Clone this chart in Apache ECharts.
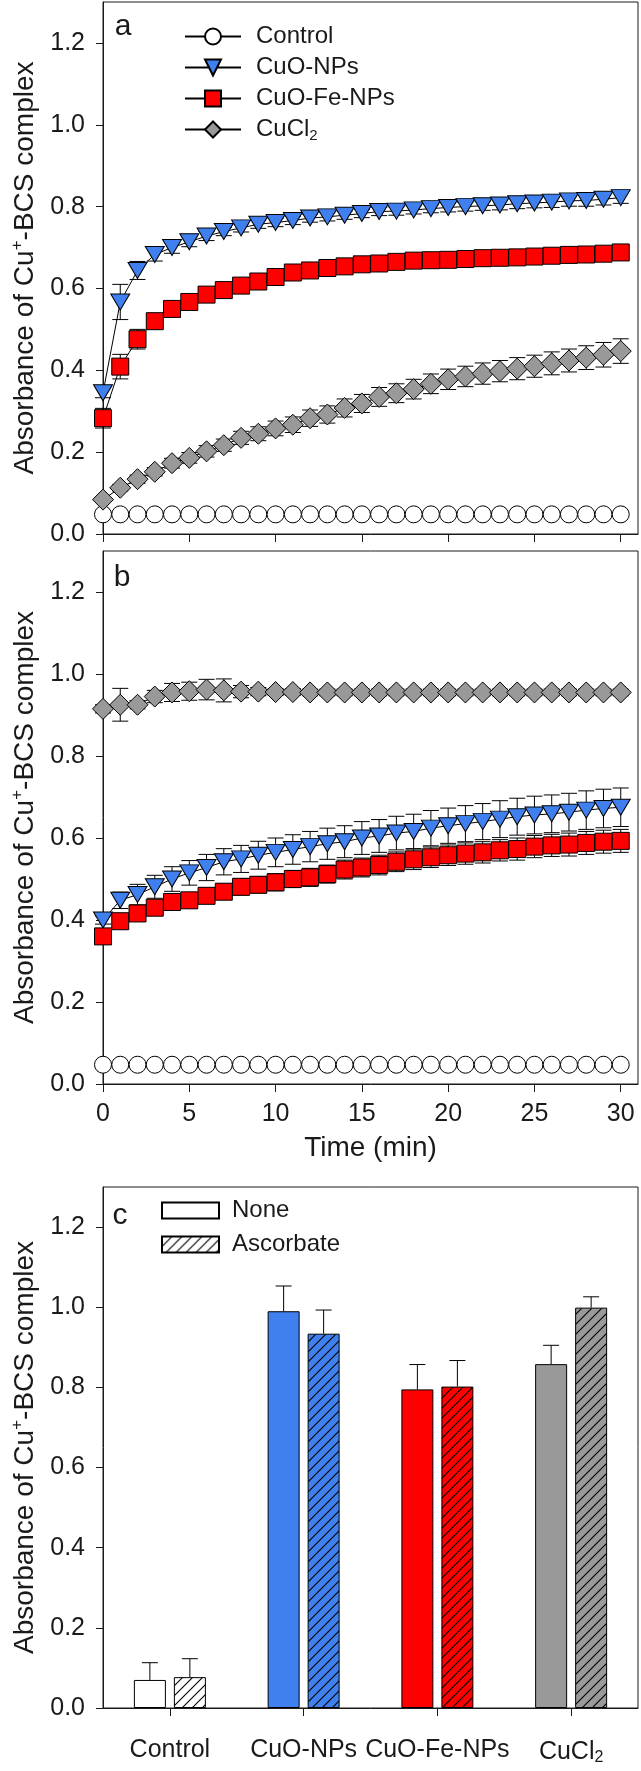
<!DOCTYPE html>
<html><head><meta charset="utf-8">
<script src="https://cdn.jsdelivr.net/npm/echarts@6/dist/echarts.min.js"></script>
<style>html,body{margin:0;padding:0;background:#fff}#c{width:641px;height:1771px}</style>
</head><body><div id="c"></div>
<script>
// ---------- data ----------
const timeMin = [0,1,2,3,4,5,6,7,8,9,10,11,12,13,14,15,16,17,18,19,20,21,22,23,24,25,26,27,28,29,30];
const xTickValues = [0,5,10,15,20,25,30];
const yTickValues = [0,0.2,0.4,0.6,0.8,1.0,1.2];

// panel a
const controlA = [0.048,0.048,0.048,0.048,0.048,0.048,0.048,0.048,0.048,0.048,0.048,0.048,0.048,0.048,0.048,0.048,0.048,0.048,0.048,0.048,0.048,0.048,0.048,0.048,0.048,0.048,0.048,0.048,0.048,0.048,0.048];
const controlErrA = [0.003,0.003,0.003,0.003,0.003,0.003,0.003,0.003,0.003,0.003,0.003,0.003,0.003,0.003,0.003,0.003,0.003,0.003,0.003,0.003,0.003,0.003,0.003,0.003,0.003,0.003,0.003,0.003,0.003,0.003,0.003];
const cuoA = [0.345,0.567,0.644,0.683,0.700,0.714,0.728,0.739,0.748,0.757,0.761,0.766,0.772,0.775,0.779,0.783,0.788,0.789,0.792,0.795,0.798,0.800,0.802,0.804,0.807,0.809,0.811,0.814,0.815,0.818,0.822];
const cuoErrA = [0.012,0.043,0.022,0.016,0.014,0.012,0.011,0.010,0.010,0.010,0.010,0.010,0.010,0.010,0.010,0.010,0.010,0.010,0.010,0.010,0.011,0.011,0.011,0.012,0.012,0.012,0.013,0.013,0.014,0.014,0.014];
const cuofeA = [0.283,0.409,0.476,0.520,0.550,0.567,0.585,0.596,0.607,0.617,0.628,0.639,0.644,0.650,0.654,0.659,0.661,0.665,0.668,0.669,0.670,0.672,0.674,0.675,0.676,0.678,0.680,0.682,0.683,0.685,0.688];
const cuofeErrA = [0.024,0.030,0.024,0.018,0.016,0.015,0.015,0.015,0.015,0.015,0.015,0.015,0.015,0.015,0.015,0.015,0.015,0.015,0.015,0.015,0.015,0.015,0.015,0.015,0.015,0.015,0.015,0.015,0.016,0.016,0.016];
const cucl2A = [0.084,0.113,0.134,0.152,0.173,0.186,0.202,0.217,0.235,0.245,0.258,0.267,0.283,0.292,0.308,0.319,0.335,0.344,0.354,0.367,0.378,0.385,0.392,0.398,0.404,0.410,0.417,0.424,0.431,0.438,0.447];
const cucl2ErrA = [0.005,0.008,0.010,0.010,0.012,0.013,0.014,0.015,0.016,0.017,0.018,0.019,0.020,0.021,0.022,0.022,0.023,0.023,0.024,0.024,0.025,0.025,0.026,0.026,0.027,0.027,0.028,0.028,0.029,0.030,0.030];

// panel b
const controlB = [0.047,0.047,0.047,0.047,0.047,0.047,0.047,0.047,0.047,0.047,0.047,0.047,0.047,0.047,0.047,0.047,0.047,0.047,0.047,0.047,0.047,0.047,0.047,0.047,0.047,0.047,0.047,0.047,0.047,0.047,0.047];
const controlErrB = [0.003,0.003,0.003,0.003,0.003,0.003,0.003,0.003,0.003,0.003,0.003,0.003,0.003,0.003,0.003,0.003,0.003,0.003,0.003,0.003,0.003,0.003,0.003,0.003,0.003,0.003,0.003,0.003,0.003,0.003,0.003];
const cuoB = [0.400,0.448,0.462,0.481,0.500,0.515,0.528,0.542,0.549,0.558,0.565,0.572,0.579,0.586,0.591,0.600,0.605,0.612,0.616,0.624,0.630,0.635,0.640,0.646,0.652,0.656,0.659,0.663,0.668,0.672,0.675];
const cuoErrB = [0.010,0.020,0.025,0.028,0.030,0.030,0.032,0.032,0.033,0.034,0.035,0.036,0.037,0.038,0.039,0.040,0.040,0.041,0.042,0.043,0.043,0.044,0.044,0.045,0.045,0.046,0.046,0.046,0.047,0.047,0.047];
const cuofeB = [0.360,0.397,0.416,0.430,0.444,0.448,0.459,0.469,0.481,0.486,0.492,0.500,0.504,0.512,0.523,0.528,0.534,0.542,0.548,0.553,0.558,0.562,0.565,0.570,0.573,0.579,0.582,0.584,0.588,0.591,0.593];
const cuofeErrB = [0.012,0.015,0.016,0.017,0.018,0.018,0.019,0.019,0.020,0.020,0.021,0.021,0.022,0.022,0.023,0.023,0.024,0.024,0.025,0.025,0.025,0.026,0.026,0.026,0.027,0.027,0.027,0.028,0.028,0.028,0.028];
const cucl2B = [0.915,0.925,0.925,0.945,0.955,0.958,0.962,0.960,0.957,0.957,0.956,0.956,0.955,0.955,0.955,0.955,0.955,0.955,0.955,0.955,0.955,0.955,0.955,0.955,0.955,0.955,0.955,0.955,0.955,0.955,0.955];
const cucl2ErrB = [0.010,0.040,0.010,0.015,0.022,0.022,0.025,0.028,0.015,0.010,0.008,0.008,0.008,0.008,0.008,0.008,0.008,0.008,0.008,0.008,0.008,0.008,0.008,0.008,0.008,0.008,0.008,0.008,0.008,0.008,0.008];

// panel c
const barCategories = ['Control','CuO-NPs','CuO-Fe-NPs','CuCl2'];
const noneVals = [0.070,0.990,0.795,0.858];
const noneErr  = [0.043,0.063,0.062,0.047];
const ascVals  = [0.077,0.934,0.802,0.999];
const ascErr   = [0.046,0.059,0.065,0.027];

// ---------- styles ----------
const FONT = '"Liberation Sans", Arial, Helvetica, sans-serif';
const INK = '#1a1a1a';
const BLUE = '#3f80ee', RED = '#ff0000', GRAY = '#999999', WHITE = '#ffffff';
const catColors = [WHITE, BLUE, RED, GRAY];
const BAR_W = 32, BAR_GAP = 8;

function hatch(bg){
  const s = 10, c = document.createElement('canvas');
  c.width = s; c.height = s;
  const g = c.getContext('2d');
  g.fillStyle = bg; g.fillRect(0,0,s,s);
  g.strokeStyle = '#000'; g.lineWidth = 1.1;
  g.beginPath();
  g.moveTo(-1, s+1); g.lineTo(s+1, -1);
  g.moveTo(-2, 2); g.lineTo(2, -2);
  g.moveTo(s-2, s+2); g.lineTo(s+2, s-2);
  g.stroke();
  return {image: c, repeat: 'repeat'};
}

const chart = echarts.init(document.getElementById('c'), null, {renderer:'canvas'});

const grids = [
  {left:103, top:2, width:535, height:532},
  {left:103, top:551, width:535, height:533},
  {left:103, top:1187, width:535, height:521}
].map(g => Object.assign({show:true, borderColor:INK, borderWidth:1, backgroundColor:'transparent', containLabel:false}, g));

const yName = '{n|Absorbance of Cu}{p|+}{n|-BCS complex}';
function yAxis(gi){
  return {
    type:'value', gridIndex:gi, min:0, max:1.3,
    axisLine:{show:true, lineStyle:{color:INK, width:1}},
    axisTick:{show:true, length:7, lineStyle:{color:INK, width:1}, customValues:yTickValues},
    axisLabel:{customValues:yTickValues, formatter:v=>v.toFixed(1), fontSize:25, color:INK, fontFamily:FONT, margin:18},
    splitLine:{show:false},
    name:yName, nameLocation:'middle', nameRotate:90, nameGap:62,
    nameTextStyle:{rich:{
      n:{fontSize:28, fontFamily:FONT, color:INK, lineHeight:32},
      p:{fontSize:17, fontFamily:FONT, color:INK, lineHeight:32, verticalAlign:'top', padding:[0,0,12,0]}
    }}
  };
}
function xAxisTime(gi, showLabels){
  return {
    type:'value', gridIndex:gi, min:0, max:31,
    axisLine:{show:true, onZero:false, lineStyle:{color:INK, width:1}},
    axisTick:{show:true, length:8, lineStyle:{color:INK, width:1}, customValues:xTickValues},
    axisLabel:{show:showLabels, customValues:xTickValues, fontSize:25, color:INK, fontFamily:FONT, margin:18},
    splitLine:{show:false},
    name: showLabels ? 'Time (min)' : '', nameLocation:'middle', nameGap:50,
    nameTextStyle:{fontSize:28, fontFamily:FONT, color:INK}
  };
}

function lineSeries(name, gi, vals, symbol, size, color, rot){
  return {
    name, type:'line', xAxisIndex:gi, yAxisIndex:gi, z:3,
    data: vals.map((v,i)=>[timeMin[i], v]),
    symbol, symbolSize:size, symbolRotate:rot||0, showAllSymbol:true, clip:false,
    lineStyle:{color:'#000', width:1},
    itemStyle:{color:color, borderColor:'#000', borderWidth:1, opacity:1},
    emphasis:{disabled:true}, animation:false
  };
}
function errSeries(gi, vals, errs){
  return {
    type:'custom', xAxisIndex:gi, yAxisIndex:gi, z:2, silent:true, animation:false, clip:false,
    data: vals.map((v,i)=>[timeMin[i], v, errs[i]]),
    renderItem:(p, api)=>{
      const x=api.value(0), y=api.value(1), e=api.value(2);
      const t=api.coord([x, y+e]), b=api.coord([x, y-e]);
      const hw=8, st={stroke:'#000', lineWidth:1};
      return {type:'group', children:[
        {type:'line', shape:{x1:t[0],y1:t[1],x2:b[0],y2:b[1]}, style:st},
        {type:'line', shape:{x1:t[0]-hw,y1:t[1],x2:t[0]+hw,y2:t[1]}, style:st},
        {type:'line', shape:{x1:b[0]-hw,y1:b[1],x2:b[0]+hw,y2:b[1]}, style:st}
      ]};
    }
  };
}
function barErr(vals, errs, side){
  return {
    type:'custom', xAxisIndex:2, yAxisIndex:2, z:4, silent:true, animation:false,
    data: vals.map((v,i)=>[i, v, errs[i]]),
    renderItem:(p, api)=>{
      const off = side*(BAR_W+BAR_GAP)/2;
      const c=api.value(0), v=api.value(1), e=api.value(2);
      const a=api.coord([c, v]), t=api.coord([c, v+e]);
      const x=a[0]+off, hw=8, st={stroke:'#000', lineWidth:1};
      return {type:'group', children:[
        {type:'line', shape:{x1:x,y1:a[1],x2:x,y2:t[1]}, style:st},
        {type:'line', shape:{x1:x-hw,y1:t[1],x2:x+hw,y2:t[1]}, style:st}
      ]};
    }
  };
}

const series = [];
[[0,controlA,controlErrA,cuoA,cuoErrA,cuofeA,cuofeErrA,cucl2A,cucl2ErrA],
 [1,controlB,controlErrB,cuoB,cuoErrB,cuofeB,cuofeErrB,cucl2B,cucl2ErrB]].forEach(r=>{
  const gi=r[0];
  series.push(errSeries(gi, r[1], r[2]));
  series.push(lineSeries('Control', gi, r[1], 'circle', 17, WHITE));
  series.push(errSeries(gi, r[3], r[4]));
  series.push(lineSeries('CuO-NPs', gi, r[3], 'triangle', [19,16], BLUE, 180));
  series.push(errSeries(gi, r[5], r[6]));
  series.push(lineSeries('CuO-Fe-NPs', gi, r[5], 'rect', 17, RED));
  series.push(errSeries(gi, r[7], r[8]));
  series.push(lineSeries('CuCl2', gi, r[7], 'diamond', 21, GRAY));
});

series.push({
  name:'None', type:'bar', xAxisIndex:2, yAxisIndex:2, barWidth:BAR_W, barGap:(BAR_GAP/BAR_W*100)+'%',
  itemStyle:{color:WHITE, borderColor:'#000', borderWidth:1},
  data: noneVals.map((v,i)=>({value:v, itemStyle:{color:catColors[i]}})), animation:false, emphasis:{disabled:true}
});
series.push({
  name:'Ascorbate', type:'bar', xAxisIndex:2, yAxisIndex:2, barWidth:BAR_W,
  itemStyle:{color:hatch(WHITE), borderColor:'#000', borderWidth:1},
  data: ascVals.map((v,i)=>({value:v, itemStyle:{color:hatch(catColors[i])}})), animation:false, emphasis:{disabled:true}
});
series.push(barErr(noneVals, noneErr, -1));
series.push(barErr(ascVals, ascErr, 1));

const richSub = {
  n:{fontSize:24, fontFamily:FONT, color:INK, lineHeight:27},
  s:{fontSize:15, fontFamily:FONT, color:INK, lineHeight:27, verticalAlign:'bottom', padding:[10,0,0,0]}
};

chart.setOption({
  backgroundColor:'#fff',
  animation:false,
  textStyle:{fontFamily:FONT},
  grid: grids,
  xAxis:[
    xAxisTime(0,false), xAxisTime(1,true),
    {type:'category', gridIndex:2, data:barCategories,
     axisLine:{show:true, lineStyle:{color:INK, width:1}},
     axisTick:{show:true, alignWithLabel:true, length:8, lineStyle:{color:INK}},
     axisLabel:{interval:0, fontSize:25, color:INK, fontFamily:FONT, margin:30,
       formatter:v=> v==='CuCl2' ? '{n|CuCl}{s|2}' : v,
       rich:{n:{fontSize:25, fontFamily:FONT, color:INK, lineHeight:28}, s:{fontSize:16, fontFamily:FONT, color:INK, lineHeight:28, verticalAlign:'bottom', padding:[10,0,0,0]}}},
     splitLine:{show:false}}
  ],
  yAxis:[yAxis(0), yAxis(1), yAxis(2)],
  legend:[
    {data:['Control','CuO-NPs','CuO-Fe-NPs','CuCl2'], orient:'vertical', left:179, top:18,
     itemWidth:56, itemHeight:20, itemGap:4, selectedMode:false,
     formatter:n=> n==='CuCl2' ? '{n|CuCl}{s|2}' : '{n|'+n+'}',
     textStyle:{fontSize:24, color:INK, fontFamily:FONT, lineHeight:27, padding:[0,0,0,10], rich:richSub}},
    {data:['None','Ascorbate'], orient:'vertical', left:156, top:1192, icon:'rect',
     itemWidth:57, itemHeight:16, itemGap:7, selectedMode:false,
     textStyle:{fontSize:24, color:INK, fontFamily:FONT, lineHeight:27, padding:[0,0,0,8]}}
  ],
  graphic:[
    {type:'text', x:123, y:27, style:{text:'a', fontSize:30, fontFamily:FONT, fill:INK, textAlign:'center', textVerticalAlign:'middle'}},
    {type:'text', x:122, y:578, style:{text:'b', fontSize:30, fontFamily:FONT, fill:INK, textAlign:'center', textVerticalAlign:'middle'}},
    {type:'text', x:120, y:1216, style:{text:'c', fontSize:30, fontFamily:FONT, fill:INK, textAlign:'center', textVerticalAlign:'middle'}}
  ],
  series
});
</script></body></html>
